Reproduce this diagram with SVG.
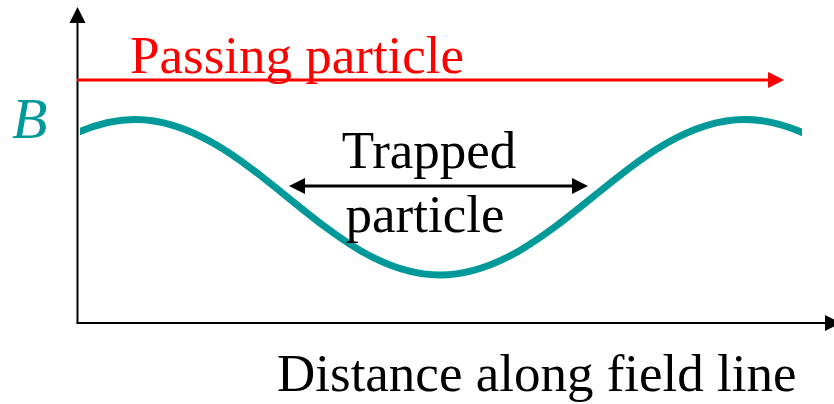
<svg xmlns="http://www.w3.org/2000/svg" width="834" height="404" viewBox="0 0 834 404">
<style>
text{font-family:"Liberation Serif","Times New Roman",serif;}
.lbl{font-size:53px;}
.axis{stroke:#000;stroke-width:2;fill:none;}
</style>
<defs>
<clipPath id="cc"><rect x="80" y="0" width="722" height="404"/></clipPath>
</defs>
<rect width="834" height="404" fill="#fff"/>
<g id="axes">
<line class="axis" x1="77.5" y1="323" x2="77.5" y2="20"/>
<polygon points="77.5,7 69.5,23 85.5,23" fill="#000"/>
<line class="axis" x1="76.5" y1="323" x2="828" y2="323"/>
<polygon points="841,323 825,315 825,331" fill="#000"/>
</g>
<g id="curve">
<path clip-path="url(#cc)" d="M-170,275 C-57.15,275 22.15,119.5 135,119.5 C247.85,119.5 327.15,275 440,275 C552.85,275 632.15,119.5 745,119.5 C857.85,119.5 937.15,275 1050,275" fill="none" stroke="#009999" stroke-width="7"/>
<text x="12" y="138" font-size="58" font-style="italic" fill="#009999">B</text>
</g>
<g id="passing">
<line x1="77" y1="80" x2="770" y2="80" stroke="#ff0000" stroke-width="3"/>
<polygon points="784,80 768,72 768,88" fill="#ff0000"/>
<text class="lbl" x="130" y="73" fill="#ff0000">Passing particle</text>
</g>
<g id="trapped">
<line x1="302" y1="186" x2="575" y2="186" stroke="#000" stroke-width="3"/>
<polygon points="289,186 305,178 305,194" fill="#000"/>
<polygon points="588,186 572,178 572,194" fill="#000"/>
<text class="lbl" x="429" y="168" text-anchor="middle" font-size="52">Trapped</text>
<text class="lbl" x="425" y="232" text-anchor="middle" font-size="51">particle</text>
</g>
<g id="xlabel">
<text class="lbl" x="277" y="391">Distance along field line</text>
</g>
</svg>
